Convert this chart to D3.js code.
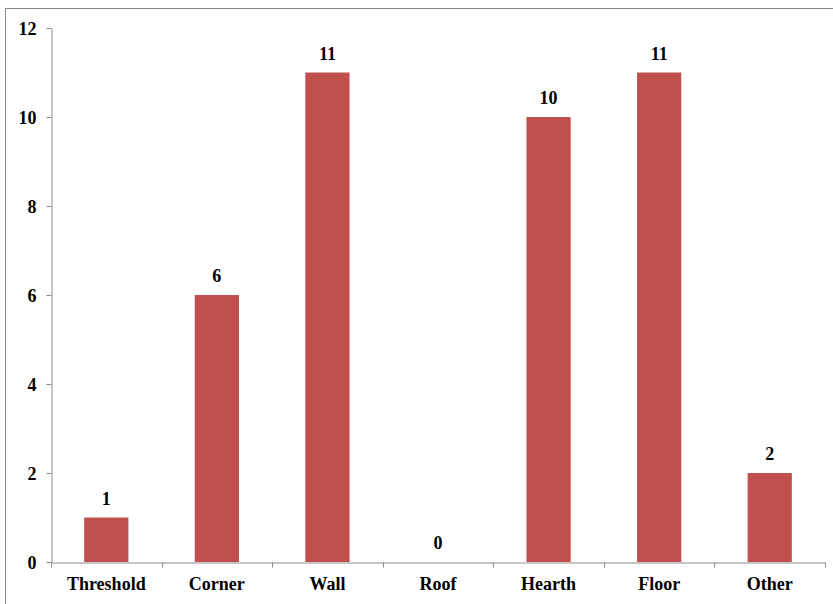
<!DOCTYPE html>
<html><head><meta charset="utf-8">
<script src="https://cdn.jsdelivr.net/npm/d3@7"></script>
<style>
body{margin:0;background:#fff;}
svg{display:block;}
</style></head>
<body>
<svg id="c" width="833" height="604"></svg>
<script>
const categories = ["Threshold","Corner","Wall","Roof","Hearth","Floor","Other"];
const values = [1,6,11,0,10,11,2];
const yTicks = [0,2,4,6,8,10,12];

const svg = d3.select("#c");
const W = 833, H = 604;
const m = {left:51, right:8, top:28, bottom:42};
const FONT = "'Liberation Serif'";

svg.append("rect").attr("x",5.5).attr("y",8.5).attr("width",W+10).attr("height",H+10)
  .attr("fill","none").attr("stroke","#868686").attr("stroke-width",1);

const x = d3.scaleBand().domain(categories).range([m.left, W-m.right]).paddingInner(0).paddingOuter(0);
const y = d3.scaleLinear().domain([0,12]).range([H-m.bottom, m.top]);

const axisColor = "#8c8c8c";

const bw = x.bandwidth()*0.4;
svg.selectAll("rect.bar").data(values).enter().append("rect")
  .attr("class","bar")
  .attr("x",(d,i)=>x(categories[i])+x.bandwidth()/2-bw/2)
  .attr("y",d=>y(d))
  .attr("width",bw)
  .attr("height",d=>y(0)-y(d))
  .attr("fill","#C0504D");

const ya = svg.append("g").attr("transform",`translate(${m.left+0.5},0)`)
  .call(d3.axisLeft(y).tickValues(yTicks).tickSize(5).tickPadding(10).tickSizeOuter(0));
ya.attr("font-family",FONT);
ya.select(".domain").attr("stroke",axisColor);
ya.selectAll(".tick line").attr("stroke",axisColor);
ya.selectAll(".tick text").attr("fill","#000").attr("font-family",FONT).attr("font-size",18).attr("font-weight","bold")
  .attr("dy","0.35em");

const xa = svg.append("g").attr("transform",`translate(0,${y(0)+0.5})`)
  .call(d3.axisBottom(x).tickSize(0).tickPadding(15).tickSizeOuter(0));
xa.attr("font-family",FONT);
xa.select(".domain").attr("stroke",axisColor);
xa.selectAll(".tick text").attr("fill","#000").attr("font-family",FONT).attr("font-size",18).attr("font-weight","bold");
const bounds = categories.map(c=>x(c)).concat([x(categories[categories.length-1])+x.bandwidth()]);
xa.selectAll("line.bt").data(bounds).enter().append("line").attr("class","bt")
  .attr("x1",d=>Math.round(d)+0.5).attr("x2",d=>Math.round(d)+0.5)
  .attr("y1",0).attr("y2",5).attr("stroke",axisColor);

svg.selectAll("text.lbl").data(values).enter().append("text")
  .attr("class","lbl")
  .attr("x",(d,i)=>x(categories[i])+x.bandwidth()/2)
  .attr("y",d=>y(d)-13)
  .attr("text-anchor","middle")
  .attr("font-family",FONT)
  .attr("font-size",18).attr("font-weight","bold")
  .text(d=>d);
</script>
</body></html>
